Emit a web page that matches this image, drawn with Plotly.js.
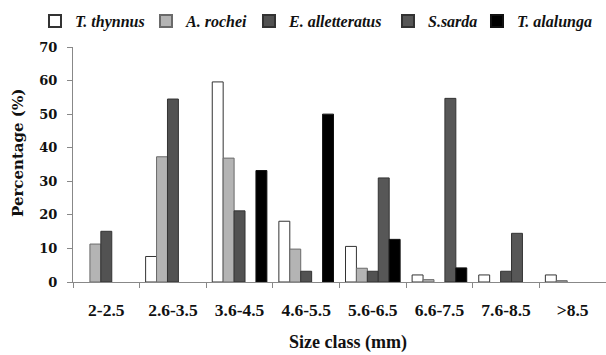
<!DOCTYPE html>
<html>
<head>
<meta charset="utf-8">
<script src="https://cdn.plot.ly/plotly-3.0.1.min.js"></script>
<style>html,body{margin:0;padding:0;background:#fff;}#chart{width:606px;height:355px;}</style>
</head>
<body>
<div id="chart"></div>
<script>
const categories = ['2-2.5','2.6-3.5','3.6-4.5','4.6-5.5','5.6-6.5','6.6-7.5','7.6-8.5','>8.5'];
const seriesNames = ['T. thynnus','A. rochei','E. alletteratus','S.sarda','T. alalunga'];
const thynnus      = [0, 7.6, 59.6, 18.1, 10.6, 2.1, 2.1, 2.1];
const rochei       = [11.3, 37.3, 36.9, 9.8, 4.1, 0.7, 0, 0.4];
const alletteratus = [15.1, 54.5, 21.2, 3.2, 3.2, 0, 3.2, 0];
const sarda        = [0, 0, 0, 0, 31.0, 54.7, 14.5, 0];
const alalunga     = [0, 0, 33.2, 50.0, 12.7, 4.2, 0, 0];
const yTicks = [0, 10, 20, 30, 40, 50, 60, 70];

const values = [thynnus, rochei, alletteratus, sarda, alalunga];
const fills = ['#ffffff', '#b4b4b4', '#525252', '#575757', '#000000'];
const lines = ['#333333', '#6a6a6a', '#333333', '#333333', '#111111'];
const legendWidths = [66, 58, 94, 44, 72];

const traces = values.map((v, i) => ({
  type: 'bar',
  name: '<b><i>' + seriesNames[i] + '</i></b>',
  x: categories,
  y: v.map(d => (d === 0 ? null : d)),
  marker: {color: fills[i], line: {color: lines[i], width: 1}},
  legendwidth: legendWidths[i],
  hoverinfo: 'x+y'
}));

const layout = {
  width: 606, height: 355,
  margin: {l: 73, r: 0, t: 47, b: 73, autoexpand: false},
  paper_bgcolor: '#fff', plot_bgcolor: '#fff',
  barmode: 'group', bargap: 0.18, bargroupgap: 0,
  showlegend: true,
  legend: {
    orientation: 'h', x: -0.0713, xanchor: 'left', y: 1.183, yanchor: 'top',
    font: {family: 'Liberation Serif', size: 16, color: '#111'},
    itemsizing: 'constant', traceorder: 'normal', bgcolor: 'rgba(0,0,0,0)'
  },
  xaxis: {
    type: 'category', range: [-0.5, 7.5],
    tickson: 'boundaries', ticks: 'outside', ticklen: 5, tickcolor: '#888', tickwidth: 1,
    showline: true, linecolor: '#888', linewidth: 1, showgrid: false, zeroline: false,
    tickfont: {family: 'Liberation Serif', size: 17.5, color: '#111', weight: 'bold'},
    ticklabelstandoff: 12
  },
  yaxis: {
    range: [0, 70], tickvals: yTicks, ticktext: yTicks.map(String),
    ticks: 'outside', ticklen: 5, tickcolor: '#888', tickwidth: 1,
    showline: true, linecolor: '#888', linewidth: 1, showgrid: false, zeroline: false,
    tickfont: {family: 'DejaVu Serif', size: 13, color: '#111', weight: 'bold'},
    ticklabelstandoff: 7
  },
  annotations: [
    {text: '<b>Size class (mm)</b>', xref: 'paper', yref: 'paper',
     x: (348 - 73) / 533, y: -(342.5 - 282) / 235, xanchor: 'center', yanchor: 'middle',
     showarrow: false, font: {family: 'Liberation Serif', size: 18, color: '#111'}},
    {text: '<b>Percentage (%)</b>', xref: 'paper', yref: 'paper', textangle: -90,
     x: (18 - 73) / 533, y: (282 - 153) / 235, xanchor: 'center', yanchor: 'middle',
     showarrow: false, font: {family: 'DejaVu Serif', size: 15, color: '#111'}}
  ]
};

Plotly.newPlot('chart', traces, layout, {staticPlot: true, displayModeBar: false});
</script>
</body>
</html>
